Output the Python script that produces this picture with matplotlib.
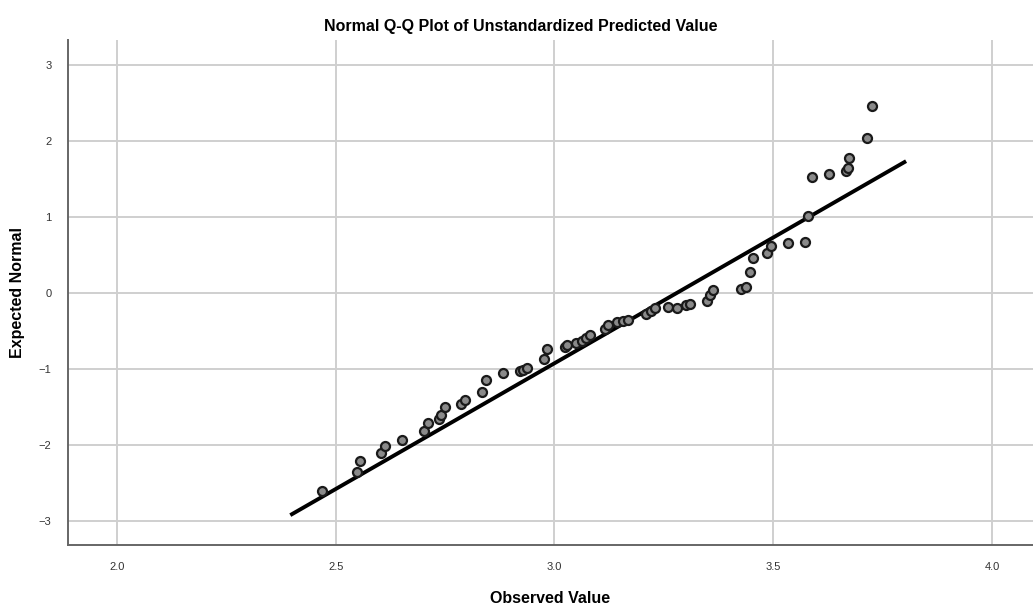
import matplotlib
matplotlib.use("Agg")
import matplotlib.pyplot as plt
import numpy as np

observed = [2.469, 2.548, 2.556, 2.603, 2.612, 2.651, 2.702, 2.711, 2.736, 2.741,
            2.749, 2.786, 2.795, 2.834, 2.843, 2.882, 2.921, 2.929, 2.937, 2.975,
            2.982, 3.024, 3.029, 3.050, 3.062, 3.073, 3.081, 3.115, 3.123, 3.142,
            3.157, 3.169, 3.21, 3.22, 3.23, 3.26, 3.28, 3.30, 3.31,
            3.348, 3.355, 3.363, 3.426, 3.439, 3.448, 3.455, 3.486, 3.494,
            3.533, 3.573, 3.580, 3.589, 3.627, 3.666, 3.670, 3.674, 3.714, 3.726]
expected = [-2.605, -2.36, -2.21, -2.11, -2.01, -1.94, -1.82, -1.71, -1.66, -1.61,
            -1.50, -1.46, -1.41, -1.31, -1.15, -1.06, -1.035, -1.01, -0.99, -0.87,
            -0.74, -0.71, -0.69, -0.66, -0.63, -0.60, -0.55, -0.48, -0.42, -0.39,
            -0.37, -0.355, -0.28, -0.24, -0.20, -0.19, -0.20, -0.16, -0.15,
            -0.11, -0.03, 0.04, 0.05, 0.08, 0.27, 0.46, 0.52, 0.62,
            0.66, 0.675, 1.01, 1.53, 1.57, 1.61, 1.64, 1.77, 2.04, 2.46]

line_x = [2.40, 3.80]
fit_mean = 3.280
fit_sd = 0.302

xticks = [2.0, 2.5, 3.0, 3.5, 4.0]
xticklabels = ["2.0", "2.5", "3.0", "3.5", "4.0"]
yticks = [-3, -2, -1, 0, 1, 2, 3]
yticklabels = ["\u22123", "\u22122", "\u22121", "0", "1", "2", "3"]

plt.rcParams['font.family'] = ['Liberation Sans', 'DejaVu Sans']

fig = plt.figure(figsize=(10.33, 6.05), dpi=100)
ax = fig.add_axes([68/1033, 60/605, 1 - 68/1033, 505/605])

ax.set_xlim(1.888, 4.094)
ax.set_ylim(-3.32, 3.33)
ax.set_xticks(xticks)
ax.set_xticklabels(xticklabels, fontsize=8, color='#333333')
ax.set_yticks(yticks)
ax.set_yticklabels(yticklabels, fontsize=8, color='#333333')
ax.tick_params(length=0, pad=12)
ax.grid(True, color='#cfcfcf', linewidth=1.4)
ax.set_axisbelow(True)
for s in ['top', 'right']:
    ax.spines[s].set_visible(False)
for s in ['left', 'bottom']:
    ax.spines[s].set_color('#666666')
    ax.spines[s].set_linewidth(1.4)

lx = np.array(line_x)
ly = (lx - fit_mean) / fit_sd
ax.plot(lx, ly, color='black', linewidth=2.8, zorder=3)

ax.scatter(observed, expected, s=42, facecolor='#8a8a8a', edgecolor='#1a1a1a',
           linewidth=1.6, zorder=4)

fig.text(521/1033, 1 - 27/605, "Normal Q-Q Plot of Unstandardized Predicted Value",
         ha='center', va='center', fontsize=11.5, fontweight='bold')
ax.set_xlabel("Observed Value", fontsize=11.5, fontweight='bold', labelpad=14)
ax.set_ylabel("Expected Normal", fontsize=11.5, fontweight='bold', labelpad=10)

fig.savefig("out.png", dpi=100)
